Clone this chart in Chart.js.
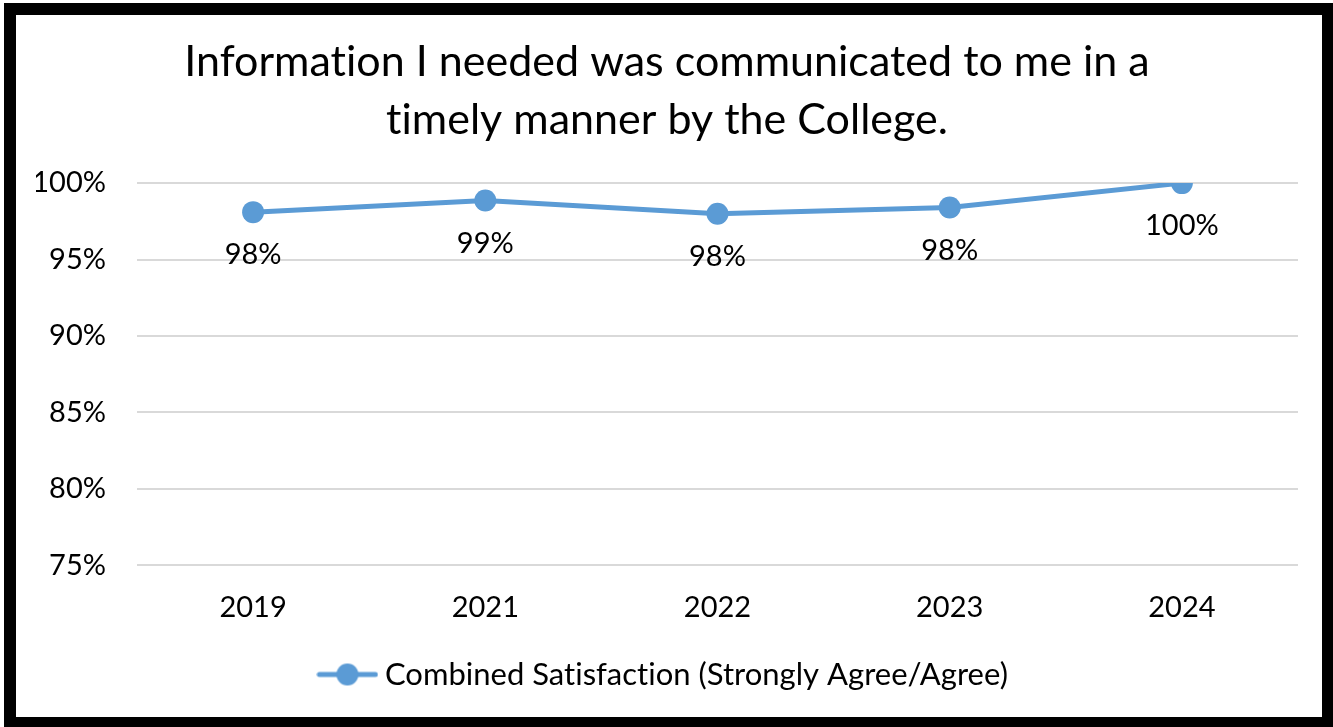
<!DOCTYPE html>
<html>
<head>
<meta charset="utf-8">
<script src="https://cdn.jsdelivr.net/npm/chart.js@4.4.1/dist/chart.umd.min.js"></script>
<style>
  html, body { margin: 0; padding: 0; background: #fff; }
  #frame {
    position: absolute; left: 4px; top: 3px;
    width: 1329px; height: 724px;
    box-sizing: border-box;
    border: 12px solid #000;
    border-bottom-width: 10px; border-right-width: 11px;
    background: #fff;
  }
  #wrap { position: relative; width: 1306px; height: 712px; }
</style>
</head>
<body>
<div id="frame"><div id="wrap"><canvas id="chart"></canvas></div></div>
<script>
const years = ['2019', '2021', '2022', '2023', '2024'];
const satisfaction = [0.981, 0.9886, 0.980, 0.984, 1.0];
const pointLabels = ['98%', '99%', '98%', '98%', '100%'];
const yTicks = [0.75, 0.80, 0.85, 0.90, 0.95, 1.0];

const blue = '#5B9BD5';
const font = 'Lato';

// legend marker: line with a dot
const marker = document.createElement('canvas');
marker.width = 62;
marker.height = 24;
const mctx = marker.getContext('2d');
mctx.strokeStyle = blue;
mctx.lineWidth = 5;
mctx.lineCap = 'round';
mctx.beginPath();
mctx.moveTo(3, 12);
mctx.lineTo(59, 12);
mctx.stroke();
mctx.fillStyle = blue;
mctx.beginPath();
mctx.arc(31, 12, 11, 0, Math.PI * 2);
mctx.fill();

// tiny letter spacing, keeps Lato from joining "ti"
const noLigatures = {
    id: 'noLigatures',
    beforeDraw(chart) {
        chart.ctx.letterSpacing = '0.01px';
    }
};

// value labels under each point
const valueLabels = {
    id: 'valueLabels',
    afterDatasetsDraw(chart) {
        const ctx = chart.ctx;
        const meta = chart.getDatasetMeta(0);
        ctx.save();
        ctx.font = '29px ' + font;
        ctx.fillStyle = '#000';
        ctx.textAlign = 'center';
        ctx.textBaseline = 'middle';
        meta.data.forEach(function (pt, i) {
            ctx.fillText(pointLabels[i], pt.x, pt.y + 43);
        });
        ctx.restore();
    }
};

const chartCanvas = document.getElementById('chart').getContext('2d');

const satisfactionChart = new Chart(chartCanvas, {
    type: 'line',
    data: {
        labels: years,
        datasets: [{
            label: 'Combined Satisfaction (Strongly Agree/Agree)',
            data: satisfaction,
            borderColor: blue,
            backgroundColor: blue,
            borderWidth: 5,
            pointRadius: 11,
            pointHoverRadius: 11,
            pointBorderWidth: 0,
            tension: 0
        }]
    },
    options: {
        responsive: true,
        maintainAspectRatio: false,
        animation: false,
        layout: {
            padding: { left: 20, right: 24, top: 0, bottom: 27 }
        },
        scales: {
            x: {
                offset: true,
                grid: { display: false },
                border: { display: false },
                ticks: {
                    color: '#000',
                    font: { family: font, size: 29 },
                    padding: 17
                }
            },
            y: {
                min: 0.75,
                max: 1.0,
                afterBuildTicks(scale) {
                    scale.ticks = yTicks.map(v => ({ value: v }));
                },
                afterFit(scale) {
                    scale.width = 101;
                },
                grid: { color: '#d9d9d9', lineWidth: 2, drawTicks: false },
                border: { display: false },
                ticks: {
                    color: '#000',
                    font: { family: font, size: 29 },
                    padding: 31,
                    callback: v => Math.round(v * 100) + '%'
                }
            }
        },
        plugins: {
            title: {
                display: true,
                text: ['Information I needed was communicated to me in a', 'timely manner by the College.'],
                color: '#000',
                font: { family: font, size: 43, weight: 'normal', lineHeight: 1.35 },
                padding: { top: 18, bottom: 34 }
            },
            legend: {
                position: 'bottom',
                labels: {
                    color: '#000',
                    font: { family: font, size: 31 },
                    usePointStyle: true,
                    pointStyle: marker,
                    pointStyleWidth: 44,
                    boxHeight: 24,
                    padding: 17
                }
            },
            tooltip: { enabled: false }
        }
    },
    plugins: [noLigatures, valueLabels]
});
</script>
</body>
</html>
